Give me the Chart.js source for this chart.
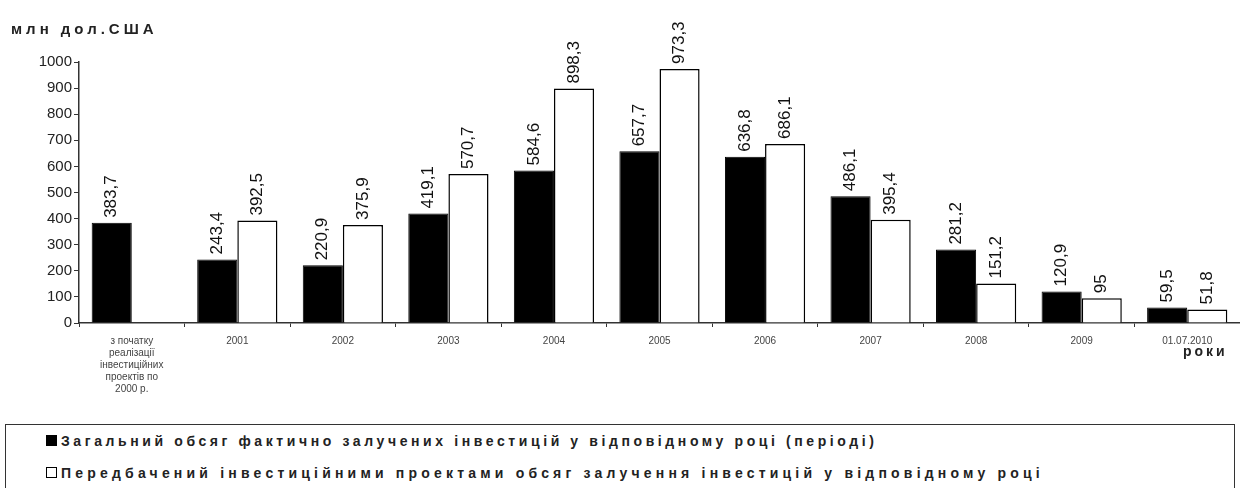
<!DOCTYPE html>
<html>
<head>
<meta charset="utf-8">
<script src="https://cdn.jsdelivr.net/npm/chart.js@4"></script>
<style>
  body { margin: 0; background: #fff; font-family: "Liberation Sans", Arial, sans-serif; }
  #wrap { position: relative; width: 1240px; height: 424px; }
  #legend { position: absolute; left: 5px; top: 424px; width: 1228px; height: 64px; border: 1px solid #333; border-bottom: none; font-size: 14px; font-weight: bold; color: #222; letter-spacing: 3.6px; }
  #legend div { margin-left: 40px; height: 32px; line-height: 32px; }
  #legend div:last-child { letter-spacing: 4.2px; }
  .sw { display: inline-block; width: 9px; height: 9px; border: 1px solid #000; margin-right: 4px; vertical-align: 0px; }
  #unit { position: absolute; left: 11px; top: 20px; font-size: 15px; font-weight: bold; color: #222; letter-spacing: 4px; }
  #years { position: absolute; left: 1183px; top: 343px; font-size: 14px; font-weight: bold; color: #222; letter-spacing: 3px; }
</style>
</head>
<body>
<div id="wrap">
  <canvas id="myChart" width="1240" height="424"></canvas>
  <div id="unit">млн дол.США</div>
  <div id="years">роки</div>
</div>
<div id="legend"></div>
<script>
let labels = [
  ['з початку', 'реалізації', 'інвестиційних', 'проектів по', '2000 р.'],
  '2001', '2002', '2003', '2004', '2005', '2006', '2007', '2008', '2009', '01.07.2010'
];
let actual = [383.7, 243.4, 220.9, 419.1, 584.6, 657.7, 636.8, 486.1, 281.2, 120.9, 59.5];
let planned = [null, 392.5, 375.9, 570.7, 898.3, 973.3, 686.1, 395.4, 151.2, 95, 51.8];
let seriesNames = [
  'Загальний обсяг фактично залучених інвестицій у відповідному році (періоді)',
  'Передбачений інвестиційними проектами обсяг залучення інвестицій у відповідному році'
];
let yTicks = [0, 100, 200, 300, 400, 500, 600, 700, 800, 900, 1000];

// підписи значень над стовпчиками (вертикально)
let valueLabels = {
  id: 'valueLabels',
  afterDatasetsDraw(chart) {
    let ctx = chart.ctx;
    ctx.save();
    ctx.font = '17px "Liberation Sans", Arial, sans-serif';
    ctx.fillStyle = '#111';
    ctx.textAlign = 'left';
    ctx.textBaseline = 'middle';
    chart.data.datasets.forEach((ds, i) => {
      chart.getDatasetMeta(i).data.forEach((bar, j) => {
        let v = ds.data[j];
        if (v == null) return;
        ctx.save();
        ctx.translate(bar.x, bar.y - 5);
        ctx.rotate(-Math.PI / 2);
        ctx.fillText(String(v).replace('.', ','), 0, 0);
        ctx.restore();
      });
    });
    ctx.restore();
  }
};

let chart = new Chart(document.getElementById('myChart'), {
  type: 'bar',
  data: {
    labels: labels,
    datasets: [{
      label: seriesNames[0],
      data: actual,
      backgroundColor: '#000',
      borderColor: '#000',
      borderWidth: 1
    }, {
      label: seriesNames[1],
      data: planned,
      backgroundColor: '#fff',
      borderColor: '#000',
      borderWidth: 1.5
    }]
  },
  options: {
    responsive: false,
    animation: false,
    categoryPercentage: 0.76,
    barPercentage: 1,
    layout: { padding: { top: 62, right: 0, left: 10, bottom: 0 } },
    plugins: { legend: { display: false }, tooltip: { enabled: false } },
    scales: {
      x: {
        grid: { display: true, offset: true, drawOnChartArea: false, color: '#333', tickLength: 4 },
        border: { color: '#333', width: 1.5 },
        ticks: { color: '#444', font: { size: 10, family: '"Liberation Sans", Arial' }, maxRotation: 0, autoSkip: false, padding: 8 },
        afterFit(s) { s.height = 101; }
      },
      y: {
        min: 0,
        max: 1000,
        afterBuildTicks(s) { s.ticks = yTicks.map(v => ({ value: v })); },
        grid: { display: true, drawOnChartArea: false, color: '#333', tickLength: 5 },
        border: { color: '#333', width: 1.5 },
        ticks: { color: '#222', font: { size: 15, family: '"Liberation Sans", Arial' }, padding: 2, callback: v => String(v) },
        afterFit(s) { s.width = 69; }
      }
    }
  },
  plugins: [valueLabels]
});

let legend = document.getElementById('legend');
seriesNames.forEach((name, i) => {
  let row = document.createElement('div');
  row.innerHTML = '<span class="sw" style="background:' + (i == 0 ? '#000' : '#fff') + '"></span>' + name;
  legend.appendChild(row);
});
</script>
</body>
</html>
